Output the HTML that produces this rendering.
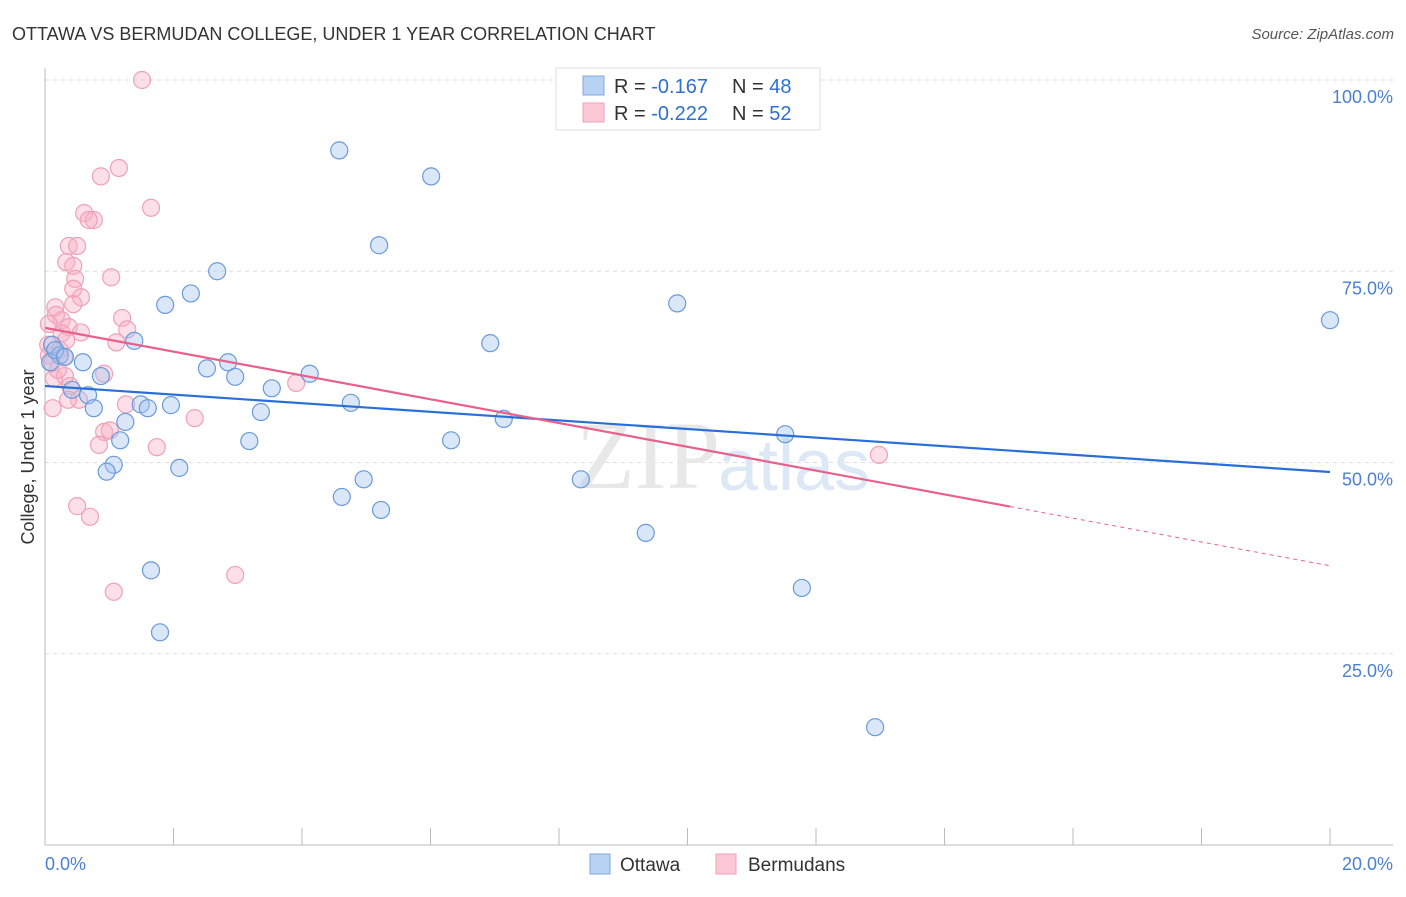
<!DOCTYPE html>
<html><head><meta charset="utf-8"><style>
body{margin:0;background:#fff;font-family:"Liberation Sans",sans-serif}
</style></head><body>
<svg id="c" width="1406" height="892" xmlns="http://www.w3.org/2000/svg" font-family="Liberation Sans, sans-serif">
<text x="12" y="40" font-size="18" fill="#333">OTTAWA VS BERMUDAN COLLEGE, UNDER 1 YEAR CORRELATION CHART</text>
<text x="1394" y="39" font-size="15" fill="#555" font-style="italic" text-anchor="end">Source: ZipAtlas.com</text>
<g id="grid"></g>
<text x="720" y="488" font-size="96" fill="#e8e8e8" text-anchor="end" font-family="Liberation Serif, serif">ZIP</text>
<text x="718" y="490" font-size="72" fill="#dce8f6">atlas</text>
<g id="pts"></g>
<g id="lines"></g>
<text transform="translate(34,457) rotate(-90)" font-size="18" fill="#333" text-anchor="middle">College, Under 1 year</text>
<g>
<rect x="556" y="68" width="264" height="62" fill="#fff" stroke="#ddd"/>
<rect x="583" y="76" width="21" height="19" fill="#b8d2f4" stroke="#7fa9e0"/>
<rect x="583" y="103" width="21" height="19" fill="#fcc8d6" stroke="#f0a0b8"/>
<text x="614" y="93" font-size="20" fill="#333">R = <tspan fill="#2e6fd0">-0.167</tspan><tspan x="732">N = </tspan><tspan fill="#2e6fd0">48</tspan></text>
<text x="614" y="120" font-size="20" fill="#333">R = <tspan fill="#2e6fd0">-0.222</tspan><tspan x="732">N = </tspan><tspan fill="#2e6fd0">52</tspan></text>
</g>
<g>
<rect x="590" y="854" width="20" height="20" fill="#b8d2f4" stroke="#7fa9e0"/>
<text x="620" y="871" font-size="19" fill="#333">Ottawa</text>
<rect x="716" y="854" width="20" height="20" fill="#fcc8d6" stroke="#f0a0b8"/>
<text x="748" y="871" font-size="19" fill="#333">Bermudans</text>
</g>
</svg>
<script>
const blueX=[4.58,6.01,5.20,2.68,2.27,1.87,9.84,20.0,6.93,1.39,0.11,0.23,0.59,2.52,2.85,2.96,4.12,0.87,3.53,0.42,0.67,4.76,1.49,1.60,1.96,0.76,3.36,7.14,1.25,11.52,1.17,3.18,6.32,1.07,0.96,2.09,8.34,4.96,4.62,5.23,9.35,1.65,11.78,1.79,12.92,0.08,0.16,0.31];
const blueY=[90.8,87.4,78.4,75.0,72.1,70.6,70.8,68.6,65.6,65.9,65.4,64.0,63.1,62.3,63.1,61.2,61.6,61.3,59.7,59.5,58.8,57.8,57.6,57.1,57.5,57.1,56.6,55.7,55.3,53.7,52.9,52.8,52.9,49.7,48.8,49.3,47.8,47.8,45.5,43.8,40.8,35.9,33.6,27.8,15.4,63.1,64.7,63.8];
const pinkX=[1.51,1.15,0.87,1.65,0.61,0.76,0.68,0.37,0.50,0.33,0.44,1.03,0.47,0.44,0.56,0.44,0.16,0.17,0.26,0.06,0.37,0.56,1.20,1.28,1.11,0.05,0.23,0.30,0.14,0.92,0.31,0.39,0.53,1.26,0.36,2.33,0.12,0.92,1.01,0.84,1.74,3.91,12.98,0.50,0.70,2.96,1.07,0.06,0.11,0.20,0.26,0.33];
const pinkY=[100,88.5,87.4,83.3,82.6,81.7,81.7,78.3,78.3,76.2,75.7,74.2,74.0,72.7,71.6,70.7,70.3,69.3,68.6,68.1,67.7,67.0,68.9,67.4,65.7,65.4,64.7,63.8,61.0,61.6,61.3,60.0,58.2,57.6,58.2,55.8,57.1,54.0,54.2,52.3,52.0,60.4,51.0,44.3,42.9,35.3,33.1,64.0,63.0,62.1,66.9,66.0];
const blueTrend=[60.0,48.76];
const pinkTrend=[67.6,36.5];
const pinkSolidEnd=15.02;
const yTicks=[100,75,50,25];
const yTickLabels=["100.0%","75.0%","50.0%","25.0%"];
const xs=v=>45+v/20*1285, ys=v=>845-v/100*765;
const NS="http://www.w3.org/2000/svg";
function mk(t,a,p){const e=document.createElementNS(NS,t);for(const k in a)e.setAttribute(k,a[k]);p.appendChild(e);return e;}
const g=document.getElementById('grid');
yTicks.forEach((t,i)=>{
 const l=mk('line',{x1:45,x2:1393,y1:ys(t),y2:ys(t),stroke:'#ddd','stroke-dasharray':'4,4'},g);
 
 
 const tx=mk('text',{x:1393,y:ys(t)+23,'font-size':18,fill:'#4a7fd4','text-anchor':'end'},g);
 tx.textContent=yTickLabels[i];
 
 
});
mk('line',{x1:45,x2:45,y1:68,y2:845,stroke:'#bbb'},g);
const xa=mk('line',{x1:45,x2:1393,y1:845,y2:845,stroke:'#bbb'},g);


for(let i=0;i<=10;i++){mk('line',{x1:xs(i*2),x2:xs(i*2),y1:828,y2:845,stroke:'#bbb'},g);}
let t0=mk('text',{x:45,y:870,'font-size':18,fill:'#4a7fd4'},g);t0.textContent='0.0%';


let t1=mk('text',{x:1393,y:870,'font-size':18,fill:'#4a7fd4','text-anchor':'end'},g);t1.textContent='20.0%';


const p=document.getElementById('pts');
pinkX.forEach((x,i)=>{const c=mk('circle',{cx:xs(x),cy:ys(pinkY[i]),r:8.5,fill:'rgba(248,176,198,0.4)',stroke:'#f0a0b8','stroke-width':1.2},p);
 
 });
blueX.forEach((x,i)=>{const c=mk('circle',{cx:xs(x),cy:ys(blueY[i]),r:8.5,fill:'rgba(160,196,240,0.4)',stroke:'#6a9ad8','stroke-width':1.2},p);
 
 });
const L=document.getElementById('lines');
const pv=x=>pinkTrend[0]+(pinkTrend[1]-pinkTrend[0])*x/20;
let b=mk('line',{x1:xs(0),y1:ys(blueTrend[0]),x2:xs(20),y2:ys(blueTrend[1]),stroke:'#2a6fd6','stroke-width':2.2},L);


let pl=mk('line',{x1:xs(0),y1:ys(pinkTrend[0]),x2:xs(pinkSolidEnd),y2:ys(pv(pinkSolidEnd)),stroke:'#e8608c','stroke-width':2.2},L);


let pd=mk('line',{x1:xs(pinkSolidEnd),y1:ys(pv(pinkSolidEnd)),x2:xs(20),y2:ys(pinkTrend[1]),stroke:'#e8608c','stroke-width':1,'stroke-dasharray':'4,4'},L);


</script>
</body></html>
